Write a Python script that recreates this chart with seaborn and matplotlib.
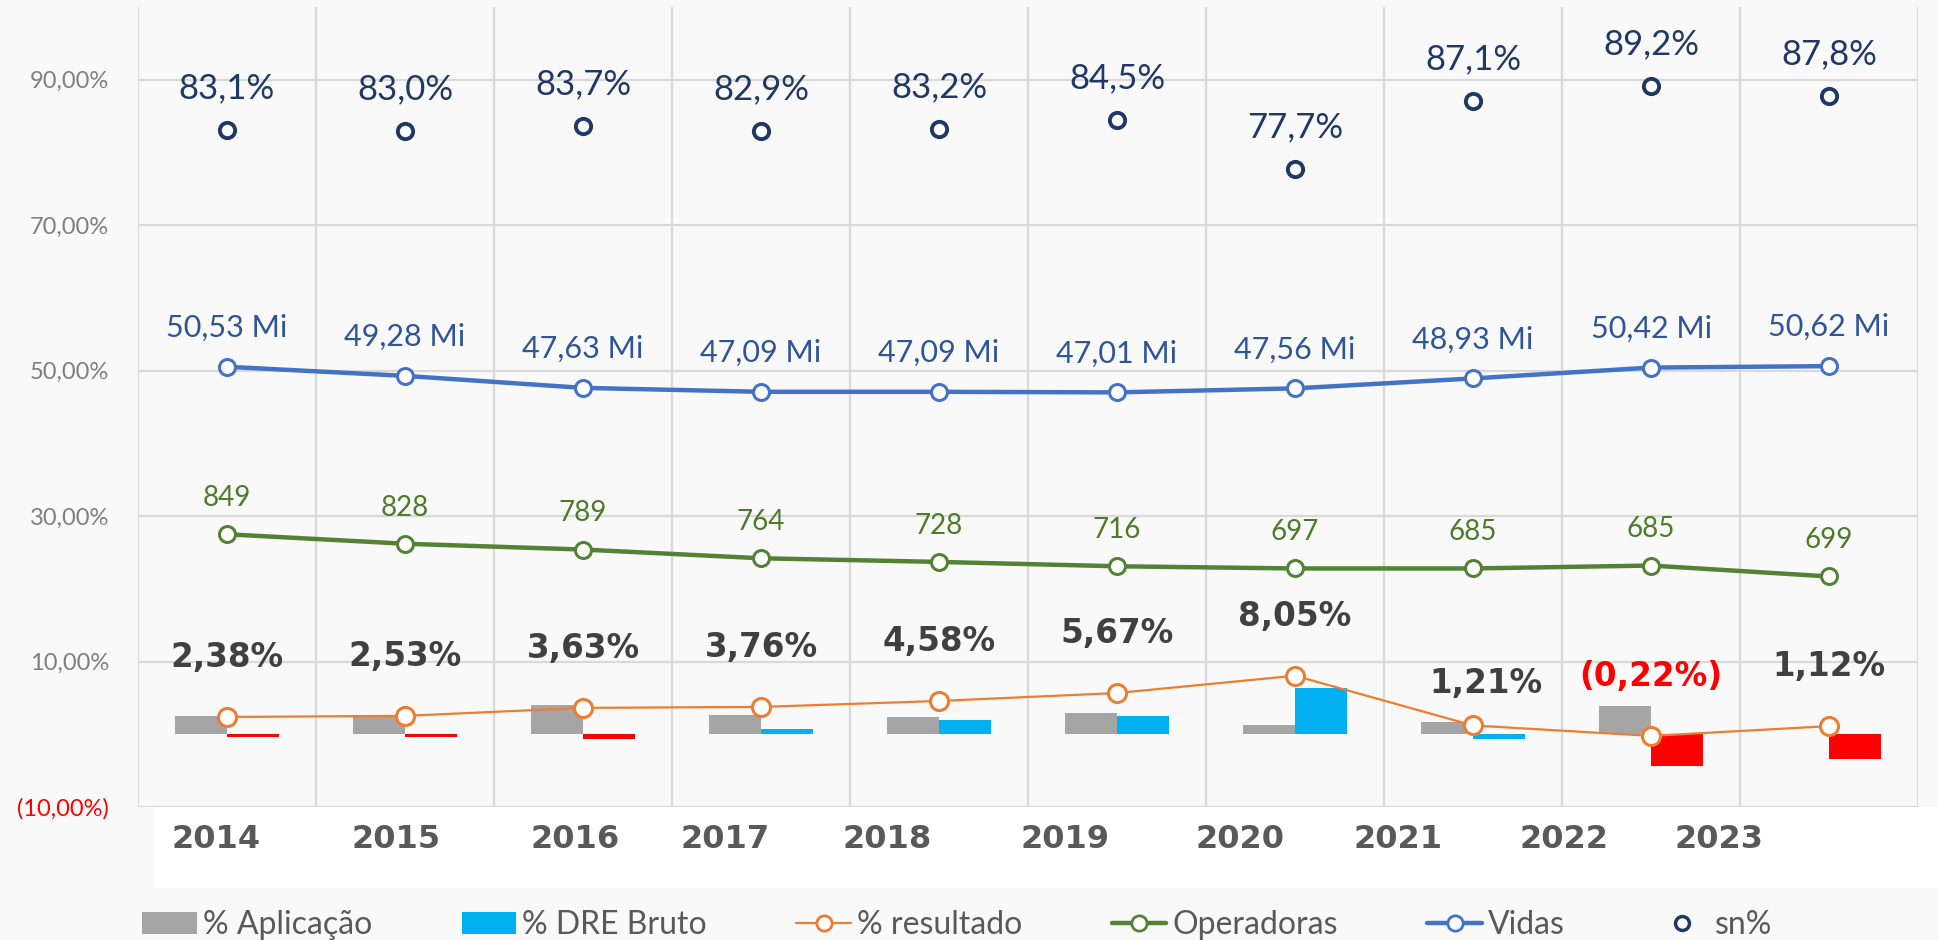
import numpy as np
import pandas as pd
import matplotlib
matplotlib.use("Agg")
import matplotlib.pyplot as plt
import seaborn as sns
from matplotlib.patches import Patch, Rectangle
from matplotlib.lines import Line2D

# ---------------- data ----------------
years = ["2014", "2015", "2016", "2017", "2018", "2019", "2020", "2021", "2022", "2023"]
aplicacao = [2.57, 2.60, 3.98, 2.70, 2.33, 2.88, 1.33, 1.74, 3.90, 0.0]
dre_bruto = [-0.37, -0.37, -0.69, 0.78, 1.97, 2.47, 6.41, -0.69, -4.35, -3.43]
resultado = [2.38, 2.53, 3.63, 3.76, 4.58, 5.67, 8.05, 1.21, -0.22, 1.12]
operadoras = [849, 828, 789, 764, 728, 716, 697, 685, 685, 699]
operadoras_pos = [27.5, 26.2, 25.4, 24.2, 23.7, 23.1, 22.8, 22.8, 23.2, 21.7]
vidas = [50.53, 49.28, 47.63, 47.09, 47.09, 47.01, 47.56, 48.93, 50.42, 50.62]
sn = [83.1, 83.0, 83.7, 82.9, 83.2, 84.5, 77.7, 87.1, 89.2, 87.8]
yticks = [-10, 10, 30, 50, 70, 90]

# ---------------- style ----------------
C_GRAY = "#a5a5a5"
C_BLUE = "#00b0f0"
C_RED = "#ff0000"
C_ORANGE = "#ed7d31"
C_GREEN = "#548235"
C_VIDAS = "#4472c4"
C_NAVY = "#1f3864"
dre_colors = [C_RED, C_RED, C_RED, C_BLUE, C_BLUE, C_BLUE, C_BLUE, C_BLUE, C_RED, C_RED]
year_label_shift = [-0.06, -0.05, -0.045, -0.2, -0.29, -0.29, -0.31, -0.42, -0.49, -0.62]
res_label_offset = [(0, 43)] * 7 + [(9, 30), (0, 43), (0, 43)]
BG = "#f9f9f9"
LIGHT = ["Lato", "DejaVu Sans"]
HEAVY = ["DejaVu Sans"]

sns.set_theme(style="white")
plt.rcParams["font.family"] = LIGHT

fig = plt.figure(figsize=(19.38, 9.40), dpi=100, facecolor=BG)
ax = fig.add_axes([138 / 1938, 1 - 807 / 940, 1780 / 1938, 800 / 940])
ax.set_facecolor(BG)

# white band behind the year labels
fig.patches.append(Rectangle((154 / 1938, 1 - 888 / 940), 1 - 154 / 1938, 81 / 940,
                             transform=fig.transFigure, facecolor="white",
                             edgecolor="none", zorder=-1))

x = np.arange(len(years))

# bars
df = pd.DataFrame({
    "Ano": years * 2,
    "valor": aplicacao + dre_bruto,
    "serie": ["% Aplicação"] * len(years) + ["% DRE Bruto"] * len(years),
})
sns.barplot(data=df, x="Ano", y="valor", hue="serie", palette=[C_GRAY, C_BLUE],
            width=0.58, dodge=True, saturation=1, errorbar=None, legend=False,
            ax=ax, zorder=2)
for bar, c in zip(ax.containers[1], dre_colors):
    bar.set_facecolor(c)
for cont in ax.containers:
    for bar in cont:
        bar.set_edgecolor("none")

# lines
sns.lineplot(x=x, y=resultado, color=C_ORANGE, lw=1.6, marker="o", markersize=13,
             markerfacecolor="white", markeredgecolor=C_ORANGE, markeredgewidth=2.2,
             ax=ax, zorder=4)
sns.lineplot(x=x, y=operadoras_pos, color=C_GREEN, lw=3.2, marker="o", markersize=11.5,
             markerfacecolor="white", markeredgecolor=C_GREEN, markeredgewidth=2.2,
             ax=ax, zorder=4)
sns.lineplot(x=x, y=vidas, color=C_VIDAS, lw=3.2, marker="o", markersize=11.5,
             markerfacecolor="white", markeredgecolor=C_VIDAS, markeredgewidth=2.2,
             ax=ax, zorder=4)
ax.plot(x, sn, linestyle="none", marker="o", markersize=11, markerfacecolor="white",
        markeredgecolor=C_NAVY, markeredgewidth=2.8, zorder=4)


def fmt(v, dec):
    return f"{v:.{dec}f}".replace(".", ",")


# data labels
for i in x:
    ax.annotate(fmt(sn[i], 1) + "%", (i, sn[i]), xytext=(0, 30), textcoords="offset points",
                ha="center", va="center", fontsize=25, color=C_NAVY)
    ax.annotate(fmt(vidas[i], 2) + " Mi", (i, vidas[i]), xytext=(0, 28),
                textcoords="offset points", ha="center", va="center", fontsize=22,
                color="#2f5597")
    ax.annotate(str(operadoras[i]), (i, operadoras_pos[i]), xytext=(0, 26),
                textcoords="offset points", ha="center", va="center", fontsize=20,
                color="#4e7a2b")
    r = resultado[i]
    txt = fmt(r, 2) + "%" if r >= 0 else "(" + fmt(-r, 2) + "%)"
    ax.annotate(txt, (i, r), xytext=res_label_offset[i], textcoords="offset points",
                ha="center", va="center", fontsize=23.5, fontweight="bold", family=HEAVY,
                color="#404040" if r >= 0 else C_RED)

# axes
ax.set_ylim(-10, 100)
ax.set_xlim(-0.5, len(years) - 0.5)
ax.set_yticks(yticks)
ax.set_yticklabels([fmt(t, 2) + "%" if t >= 0 else "(" + fmt(-t, 2) + "%)" for t in yticks],
                   fontsize=17, color="#7f7f7f")
ax.get_yticklabels()[0].set_color(C_RED)
ax.set_xticks(x + np.array(year_label_shift))
ax.set_xticklabels(years, fontsize=23, fontweight="bold", family=HEAVY, color="#595959")
ax.set_xticks(np.arange(-0.5, len(years), 1), minor=True)
ax.tick_params(axis="x", which="both", length=0, pad=12)
ax.tick_params(axis="y", length=0, pad=21)
ax.set_xlabel("")
ax.set_ylabel("")
ax.grid(False)
ax.grid(axis="y", which="major", color="#d9d9d9", lw=1.6)
ax.grid(axis="x", which="minor", color="#d9d9d9", lw=1.6)
ax.set_axisbelow(True)
for s in ax.spines.values():
    s.set_visible(False)

# legend
handles = [
    Patch(facecolor=C_GRAY, edgecolor="none", label="% Aplicação"),
    Patch(facecolor=C_BLUE, edgecolor="none", label="% DRE Bruto"),
    Line2D([], [], color=C_ORANGE, lw=1.6, marker="o", markersize=11, markerfacecolor="white",
           markeredgecolor=C_ORANGE, markeredgewidth=2, label="% resultado"),
    Line2D([], [], color=C_GREEN, lw=3.2, marker="o", markersize=11, markerfacecolor="white",
           markeredgecolor=C_GREEN, markeredgewidth=2, label="Operadoras"),
    Line2D([], [], color=C_VIDAS, lw=3.2, marker="o", markersize=11, markerfacecolor="white",
           markeredgecolor=C_VIDAS, markeredgewidth=2, label="Vidas"),
    Line2D([], [], linestyle="none", marker="o", markersize=10, markerfacecolor="white",
           markeredgecolor=C_NAVY, markeredgewidth=2.5, label="sn%"),
]
leg = fig.legend(handles=handles, loc="center", bbox_to_anchor=(0.494, 0.016), ncol=6,
                 frameon=False, fontsize=23, handlelength=1.7, handletextpad=0.2,
                 columnspacing=2.8)
for t in leg.get_texts():
    t.set_color("#595959")

fig.savefig("out.png", dpi=100, facecolor=BG)
